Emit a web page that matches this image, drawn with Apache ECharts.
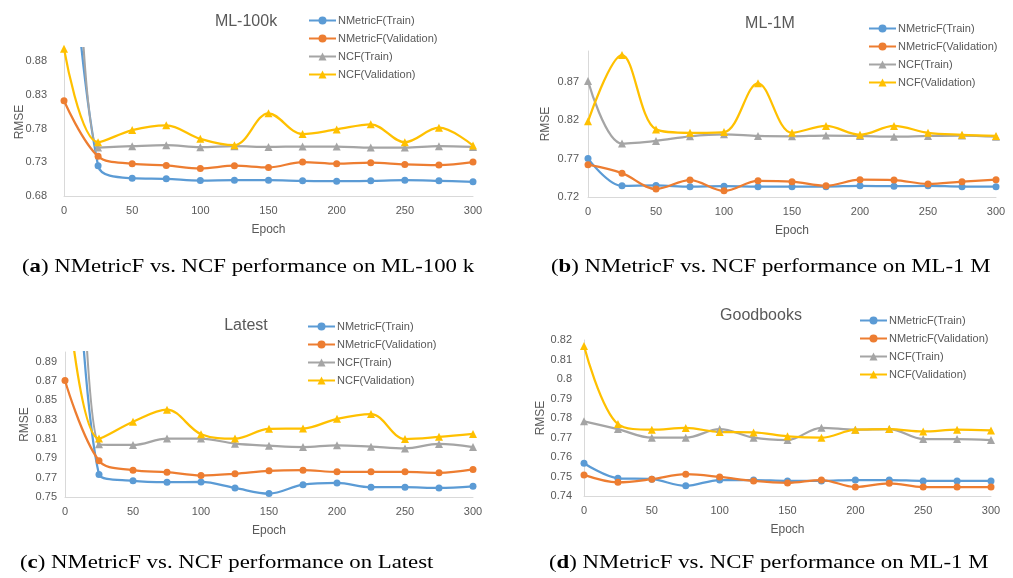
<!DOCTYPE html>
<html><head><meta charset="utf-8">
<script src="https://cdn.jsdelivr.net/npm/echarts@6/dist/echarts.min.js"></script>
<style>html,body{margin:0;padding:0;background:#fff}#c{width:1013px;height:578px}</style>
</head><body><div id="c"></div>
<script>
const epochs = [0, 25, 50, 75, 100, 125, 150, 175, 200, 225, 250, 275, 300];
const seriesNames = ['NMetricF(Train)', 'NMetricF(Validation)', 'NCF(Train)', 'NCF(Validation)'];
const panelTitles = ['ML-100k', 'ML-1M', 'Latest', 'Goodbooks'];
const captionLetters = ['a', 'b', 'c', 'd'];
const captionTexts = [
  ' NMetricF vs. NCF performance on ML-100 k',
  ' NMetricF vs. NCF performance on ML-1 M',
  ' NMetricF vs. NCF performance on Latest',
  ' NMetricF vs. NCF performance on ML-1 M'
];

// (a) ML-100k  (epoch-0 values of the two steep curves lie above the plotted range; estimated)
const a_nmTrain = [1.22, 0.725, 0.7065, 0.7055, 0.703, 0.7035, 0.7035, 0.7025, 0.702, 0.7025, 0.7035, 0.7025, 0.701];
const a_nmVal   = [0.8215, 0.739, 0.728, 0.7255, 0.721, 0.725, 0.7225, 0.7305, 0.728, 0.7295, 0.727, 0.726, 0.7305];
const a_ncfTrain= [1.75, 0.752, 0.754, 0.7555, 0.7525, 0.754, 0.753, 0.7535, 0.7535, 0.752, 0.752, 0.754, 0.753];
const a_ncfVal  = [0.899, 0.76, 0.778, 0.785, 0.765, 0.7555, 0.803, 0.772, 0.779, 0.7865, 0.76, 0.7815, 0.755];
const a_yTicks  = [0.68, 0.73, 0.78, 0.83, 0.88];

// (b) ML-1M
const b_nmTrain = [0.770, 0.7345, 0.735, 0.7335, 0.734, 0.7335, 0.7335, 0.7335, 0.7345, 0.734, 0.7345, 0.7335, 0.7335];
const b_nmVal   = [0.762, 0.751, 0.7305, 0.742, 0.728, 0.741, 0.740, 0.7345, 0.7425, 0.742, 0.737, 0.740, 0.7425];
const b_ncfTrain= [0.871, 0.7895, 0.793, 0.799, 0.8015, 0.7995, 0.799, 0.800, 0.7995, 0.7985, 0.7995, 0.800, 0.7985];
const b_ncfVal  = [0.8185, 0.9047, 0.808, 0.8035, 0.8045, 0.868, 0.8035, 0.8125, 0.801, 0.8125, 0.8035, 0.801, 0.7995];
const b_yTicks  = [0.72, 0.77, 0.82, 0.87];

// (c) Latest  (epoch-0 values of three curves lie above the plotted range; estimated)
const c_nmTrain = [1.30, 0.7733, 0.7667, 0.7653, 0.7656, 0.7594, 0.7535, 0.7628, 0.7646, 0.7601, 0.7601, 0.7594, 0.7611];
const c_nmVal   = [0.8705, 0.7875, 0.7778, 0.7757, 0.7722, 0.774, 0.7771, 0.7778, 0.776, 0.776, 0.776, 0.775, 0.7785];
const c_ncfTrain= [1.75, 0.8045, 0.8038, 0.8104, 0.8104, 0.8052, 0.8031, 0.8017, 0.8035, 0.8021, 0.8003, 0.8049, 0.8017];
const c_ncfVal  = [0.985, 0.8104, 0.8278, 0.8403, 0.815, 0.8104, 0.8205, 0.8208, 0.8309, 0.8358, 0.81, 0.8122, 0.8153];
const c_yTicks  = [0.75, 0.77, 0.79, 0.81, 0.83, 0.85, 0.87, 0.89];

// (d) Goodbooks
const d_nmTrain = [0.7568, 0.7491, 0.7486, 0.7452, 0.7482, 0.7482, 0.7477, 0.7477, 0.7482, 0.7482, 0.7477, 0.7477, 0.7477];
const d_nmVal   = [0.7508, 0.747, 0.7486, 0.7512, 0.7498, 0.7477, 0.7467, 0.7482, 0.7446, 0.7465, 0.7446, 0.7446, 0.7446];
const d_ncfTrain= [0.7783, 0.7743, 0.7699, 0.7699, 0.7743, 0.7699, 0.7687, 0.775, 0.774, 0.7743, 0.7692, 0.7692, 0.7687];
const d_ncfVal  = [0.8169, 0.7769, 0.774, 0.7749, 0.7728, 0.7726, 0.7706, 0.7699, 0.774, 0.7743, 0.7731, 0.774, 0.7736];
const d_yTicks  = [0.74, 0.75, 0.76, 0.77, 0.78, 0.79, 0.80, 0.81, 0.82];

const panelData = [
  [a_nmTrain, a_nmVal, a_ncfTrain, a_ncfVal],
  [b_nmTrain, b_nmVal, b_ncfTrain, b_ncfVal],
  [c_nmTrain, c_nmVal, c_ncfTrain, c_ncfVal],
  [d_nmTrain, d_nmVal, d_ncfTrain, d_ncfVal]
];
const yTicks = [a_yTicks, b_yTicks, c_yTicks, d_yTicks];
const yRange = [[0.68, 0.90], [0.72, 0.91], [0.75, 0.90], [0.74, 0.82]];

// layout (pixels)
const grids = [
  {left: 64, top: 48, width: 409, height: 148},
  {left: 588, top: 51, width: 408, height: 146},
  {left: 65, top: 352, width: 408, height: 145},
  {left: 584, top: 340, width: 407, height: 156}
];
const yLabelMargin = [17, 9, 8, 12];
const yNameGap = [38, 36, 34, 37];
const legendPos = [{left: 308, top: 15}, {left: 868, top: 23}, {left: 307, top: 321}, {left: 859, top: 315}];
const titlePos = [[246, 22], [770, 24], [246, 326], [761, 316]];
const captionPos = [[22, 267], [551, 267], [20, 563], [549, 563]];

const colors = ['#5B9BD5', '#ED7D31', '#A5A5A5', '#FFC000'];
const symbols = ['circle', 'circle', 'triangle', 'triangle'];
const symbolSizes = [7, 7, 8, 8];
const textColor = '#595959';
const fontFam = 'Liberation Sans, Arial, sans-serif';

const option = {
  animation: false,
  backgroundColor: '#fff',
  grid: [], xAxis: [], yAxis: [], series: [], legend: [], graphic: []
};

for (let p = 0; p < 4; p++) {
  option.grid.push(Object.assign({containLabel: false}, grids[p]));
  option.xAxis.push({
    type: 'value', gridIndex: p, min: 0, max: 300, interval: 50,
    axisLine: {show: true, lineStyle: {color: '#D9D9D9', width: 1}},
    axisTick: {show: false}, splitLine: {show: false},
    axisLabel: {color: textColor, fontSize: 11, fontFamily: fontFam, margin: 9},
    name: 'Epoch', nameLocation: 'middle', nameGap: 28, nameMoveOverlap: false,
    nameTextStyle: {color: textColor, fontSize: 12, fontFamily: fontFam}
  });
  option.yAxis.push({
    type: 'value', gridIndex: p, min: yRange[p][0], max: yRange[p][1],
    axisLine: {show: true, lineStyle: {color: '#D9D9D9', width: 1}},
    axisTick: {show: false}, splitLine: {show: false},
    axisLabel: {
      color: textColor, fontSize: 11, fontFamily: fontFam, margin: yLabelMargin[p],
      customValues: yTicks[p],
      formatter: v => String(+(+v).toFixed(2))
    },
    name: 'RMSE', nameLocation: 'middle', nameGap: yNameGap[p], nameMoveOverlap: false,
    nameTextStyle: {color: textColor, fontSize: 12, fontFamily: fontFam}
  });
  for (let s = 0; s < 4; s++) {
    option.series.push({
      type: 'line', name: seriesNames[s], xAxisIndex: p, yAxisIndex: p,
      data: epochs.map((e, i) => [e, panelData[p][s][i]]),
      smooth: 0.35, clip: true,
      symbol: symbols[s], symbolSize: symbolSizes[s], showSymbol: true,
      lineStyle: {color: colors[s], width: 2.25},
      itemStyle: {color: colors[s], borderWidth: 0},
      emphasis: {disabled: true}
    });
  }
  option.legend.push({
    orient: 'vertical', left: legendPos[p].left, top: legendPos[p].top,
    data: seriesNames, itemWidth: 27, itemHeight: 10, itemGap: 7,
    selectedMode: false, padding: 0,
    textStyle: {color: textColor, fontSize: 11, fontFamily: fontFam, padding: [0, 0, 0, -3]}
  });
  option.graphic.push({
    type: 'text', x: titlePos[p][0], y: titlePos[p][1],
    style: {text: panelTitles[p], fill: textColor, font: '16px ' + fontFam, textAlign: 'center', textVerticalAlign: 'middle'}
  });
  option.graphic.push({
    type: 'text', x: captionPos[p][0], y: captionPos[p][1], scaleX: 1.2,
    style: {
      text: '({b|' + captionLetters[p] + '})' + captionTexts[p],
      fill: '#000', font: '19px "Liberation Serif", serif', textVerticalAlign: 'middle',
      rich: {b: {fontWeight: 'bold', fontSize: 19, fontFamily: '"Liberation Serif", serif', fill: '#000'}}
    }
  });
}

const chart = echarts.init(document.getElementById('c'), null, {renderer: 'canvas'});
chart.setOption(option);
</script>
</body></html>
